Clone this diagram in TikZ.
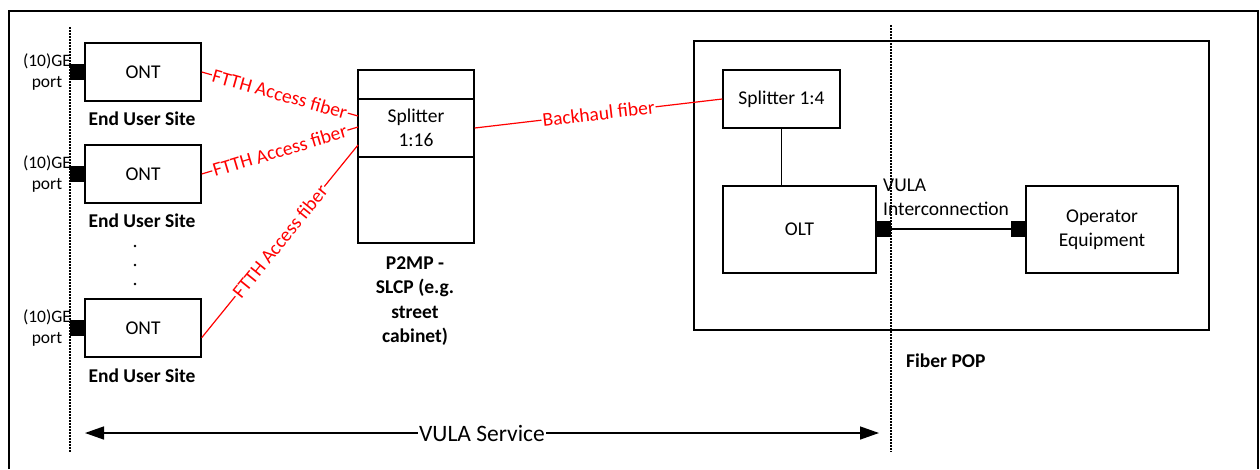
\documentclass[tikz,border=0pt]{standalone}
\usepackage{fontspec}
\setmainfont{Carlito}
\usetikzlibrary{arrows.meta,calc}
\begin{document}
\begin{tikzpicture}[x=1pt,y=-1pt,
  every node/.style={font=\fontsize{19.5}{24}\selectfont},
  box/.style={draw, line width=1.4pt, inner sep=0pt, align=center},
  port/.style={fill=black, draw=none, minimum width=15pt, minimum height=16pt, inner sep=0pt},
  fib/.style={draw=red, line width=1.2pt},
  fiblab/.style={midway, sloped, fill=white, text=red, inner xsep=1pt, inner ysep=0pt},
  bold/.style={font=\fontsize{19.5}{24.5}\selectfont\bfseries},
  portlab/.style={font=\fontsize{17.5}{21}\selectfont, align=center, inner sep=0pt},
  sep/.style={line width=1.2pt, dash pattern=on 1.5pt off 1.5pt},
  conn/.style={line width=1.4pt}]
\useasboundingbox (0,0) rectangle (1260,469);
% outer frame
\draw[conn] (9,469) -- (9,11) -- (1258,11) -- (1258,469);
% demarcation lines
\coordinate (dlt) at (70,27);
\coordinate (dlb) at (70,453);
\coordinate (drt) at (891,25);
\coordinate (drb) at (891,452);
\draw[sep] (dlt) -- (dlb);
\draw[sep] (drt) -- (drb);
% end user sites
\node[box, minimum width=116pt, minimum height=58pt] (ont1) at (143,72) {ONT};
\node[box, minimum width=116pt, minimum height=58pt] (ont2) at (143,174) {ONT};
\node[box, minimum width=116pt, minimum height=58pt] (ont3) at (143,328) {ONT};
\node[port] (p1) at (77.5,72) {};
\node[port] (p2) at (77.5,174) {};
\node[port] (p3) at (77.5,328) {};
\node[portlab] (g1) at (47,72) {(10)GE\\port};
\node[portlab] (g2) at (47,174) {(10)GE\\port};
\node[portlab] (g3) at (47,328) {(10)GE\\port};
\node[bold] (eu1) at (142,119) {End User Site};
\node[bold] (eu2) at (142,221) {End User Site};
\node[bold] (eu3) at (142,376) {End User Site};
\fill (135,246) circle (1.4pt);
\fill (135,265) circle (1.4pt);
\fill (135,284) circle (1.4pt);
% street cabinet
\node[box, minimum width=116pt, minimum height=173pt] (cab) at (416,156.5) {};
\node[box, minimum width=116pt, minimum height=58pt] (spl) at (416,128) {Splitter\\1:16};
\node[bold, align=center] (p2mp) at (415,301) {P2MP -\\SLCP (e.g.\\street\\cabinet)};
\coordinate (s1) at (358,116);
\coordinate (s2) at (358,127);
\coordinate (s3) at (358,145);
\draw[fib] (ont1.east) -- node[fiblab] {FTTH Access fiber} (s1);
\draw[fib] (ont2.east) -- node[fiblab] {FTTH Access fiber} (s2);
\draw[fib] ($(ont3.south east)+(0,-20)$) -- node[fiblab] {FTTH Access fiber} (s3);
% fiber POP
\node[box, minimum width=515pt, minimum height=289pt] (pop) at (951.5,185.5) {};
\node[box, minimum width=117pt, minimum height=58pt] (sp14) at (781.5,99) {Splitter 1:4};
\node[box, minimum width=153pt, minimum height=87pt] (olt) at (799.5,229.5) {OLT};
\node[box, minimum width=152pt, minimum height=87pt] (op) at (1102,229.5) {Operator\\Equipment};
\node[port] (oltp) at (883.5,229) {};
\node[port] (opp) at (1018.5,229) {};
\draw[conn] (oltp.east) -- (opp.west);
\draw[conn] (sp14.south) -- (sp14.south |- olt.north);
\draw[fib] (spl.east) -- node[fiblab] {Backhaul fiber} (sp14.west);
\node[anchor=west, align=left, inner sep=0pt] (vi) at (883,197.5) {VULA\\Interconnection};
\node[bold, anchor=west, inner sep=0pt] (fp) at (906,361) {Fiber POP};
% VULA service
\coordinate (al) at (85,433);
\coordinate (ar) at (879,433);
\draw[conn, {Triangle[length=19pt,width=13pt]}-{Triangle[length=19pt,width=13pt]}] (al) -- node[fill=white, inner xsep=1pt, inner ysep=0pt, font=\fontsize{23.5}{28}\selectfont] (vs) {VULA Service} (ar);
\end{tikzpicture}
\end{document}
